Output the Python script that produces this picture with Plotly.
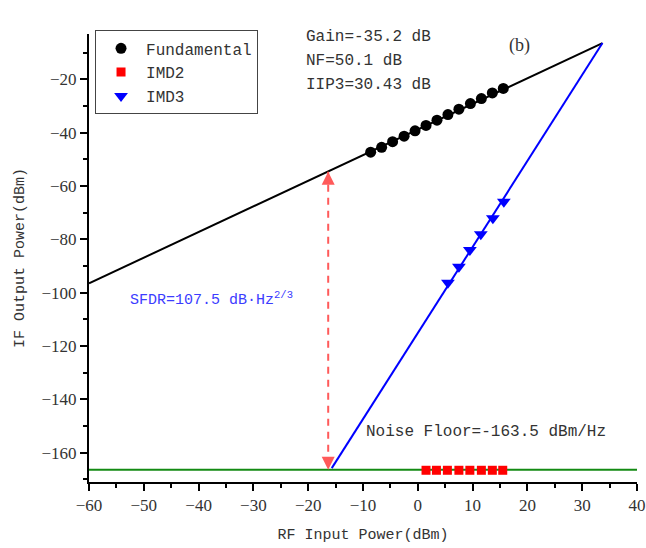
import plotly.graph_objects as go

# Measured tones (RF input power in dBm -> IF output power in dBm)
fund_x = [-8.6, -6.6, -4.6, -2.5, -0.5, 1.5, 3.5, 5.5, 7.5, 9.6, 11.6, 13.6, 15.6]
fund_y = [-47.3, -45.5, -43.4, -41.3, -39.3, -37.3, -35.3, -33.2, -31.2, -29.1, -27.2, -25.1, -23.4]

imd2_x = [1.5, 3.4, 5.4, 7.5, 9.5, 11.6, 13.6, 15.5]
imd2_y = [-166.6, -166.6, -166.6, -166.6, -166.6, -166.6, -166.6, -166.6]

imd3_x = [5.5, 7.5, 9.5, 11.5, 13.7, 15.7]
imd3_y = [-96.3, -90.3, -84.0, -78.1, -72.1, -65.9]

# Extrapolated fits meeting at the third-order intercept
fund_fit_x = [-60, 33.7]
fund_fit_y = [-96.5, -6.4]
imd3_fit_x = [-15.7, 33.7]
imd3_fit_y = [-165.8, -6.4]

# Noise floor level and SFDR span
floor_x = [-60, 40]
floor_y = [-166.4, -166.4]
sfdr_x = [-16.35, -16.35]
sfdr_y = [-54.7, -166.4]

gain_db = -35.2
nf_db = 50.1
iip3_db = 30.43
sfdr_val = 107.5
noise_floor_dbm_hz = -163.5

MONO = "Liberation Mono"
SERIF = "Liberation Serif"
TXT = "#333333"

fig = go.Figure()

fig.add_trace(go.Scatter(x=floor_x, y=floor_y, mode="lines",
                         line=dict(color="#138a13", width=2), showlegend=False, hoverinfo="skip"))
fig.add_trace(go.Scatter(x=fund_fit_x, y=fund_fit_y, mode="lines",
                         line=dict(color="black", width=2), showlegend=False, hoverinfo="skip"))
fig.add_trace(go.Scatter(x=imd3_fit_x, y=imd3_fit_y, mode="lines",
                         line=dict(color="#0000ff", width=2), showlegend=False, hoverinfo="skip"))
fig.add_trace(go.Scatter(x=sfdr_x, y=sfdr_y, mode="lines",
                         line=dict(color="#ff5a5a", width=2, dash="7px,6px"),
                         showlegend=False, hoverinfo="skip"))

fig.add_trace(go.Scatter(x=fund_x, y=fund_y, mode="markers", name="Fundamental",
                         marker=dict(symbol="circle", size=11, color="black")))
fig.add_trace(go.Scatter(x=imd2_x, y=imd2_y, mode="markers", name="IMD2",
                         marker=dict(symbol="square", size=9, color="#ff0000")))
fig.add_trace(go.Scatter(x=imd3_x, y=imd3_y, mode="markers", name="IMD3",
                         marker=dict(symbol="triangle-down", size=12, color="#0000ff")))

# Arrowheads at both ends of the SFDR span
arrow = dict(text="", showarrow=True, arrowhead=2, arrowsize=1.3, arrowwidth=2,
             arrowcolor="#ff5a5a", ax=0, xref="x", yref="y")
fig.add_annotation(x=sfdr_x[0], y=sfdr_y[0], ay=14, **arrow)
fig.add_annotation(x=sfdr_x[1], y=sfdr_y[1], ay=-14, **arrow)

def note(x, y, text, color=TXT, family=MONO, size=16, anchor="left"):
    fig.add_annotation(x=x, y=y, xref="x", yref="y", text=text, showarrow=False,
                       xanchor=anchor, yanchor="middle",
                       font=dict(family=family, size=size, color=color))

note(-20.8, -4.2, f"Gain={gain_db} dB")
note(-20.8, -13.2, f"NF={nf_db} dB")
note(-20.8, -22.2, f"IIP3={iip3_db} dB")
note(18.5, -7.2, "(b)", family=SERIF, size=18, anchor="center")
note(-52.9, -102.5, f"SFDR={sfdr_val} dB·Hz<sup>2/3</sup>", color="#3c3cff", size=15)
note(-9.8, -152.2, f"Noise Floor={noise_floor_dbm_hz} dBm/Hz")

axis_common = dict(showline=True, linecolor="black", linewidth=2, ticks="outside",
                   ticklen=7, tickwidth=2, tickcolor="black", showgrid=False, zeroline=False,
                   automargin=False,
                   tickfont=dict(family=SERIF, size=17, color=TXT),
                   title_font=dict(family=MONO, size=15, color=TXT))

fig.update_xaxes(range=[-60, 40], dtick=10, tick0=0,
                 minor=dict(dtick=5, ticks="outside", ticklen=4, tickwidth=2, tickcolor="black"),
                 title_text="RF Input Power(dBm)", title_standoff=14, **axis_common)
fig.update_yaxes(range=[-171, -3], dtick=20, tick0=0,
                 minor=dict(dtick=10, ticks="outside", ticklen=4, tickwidth=2, tickcolor="black"),
                 title_text="IF Output Power(dBm)", title_standoff=13, **axis_common)

fig.update_layout(
    width=646, height=548,
    margin=dict(l=89, r=9, t=34, b=66),
    paper_bgcolor="white", plot_bgcolor="white",
    legend=dict(x=0.011, y=1.008, xanchor="left", yanchor="top",
                bordercolor="#444444", borderwidth=1, bgcolor="white",
                font=dict(family=MONO, size=16, color=TXT),
                itemwidth=40, tracegroupgap=0),
    showlegend=True,
)

fig.write_html("out.html")
